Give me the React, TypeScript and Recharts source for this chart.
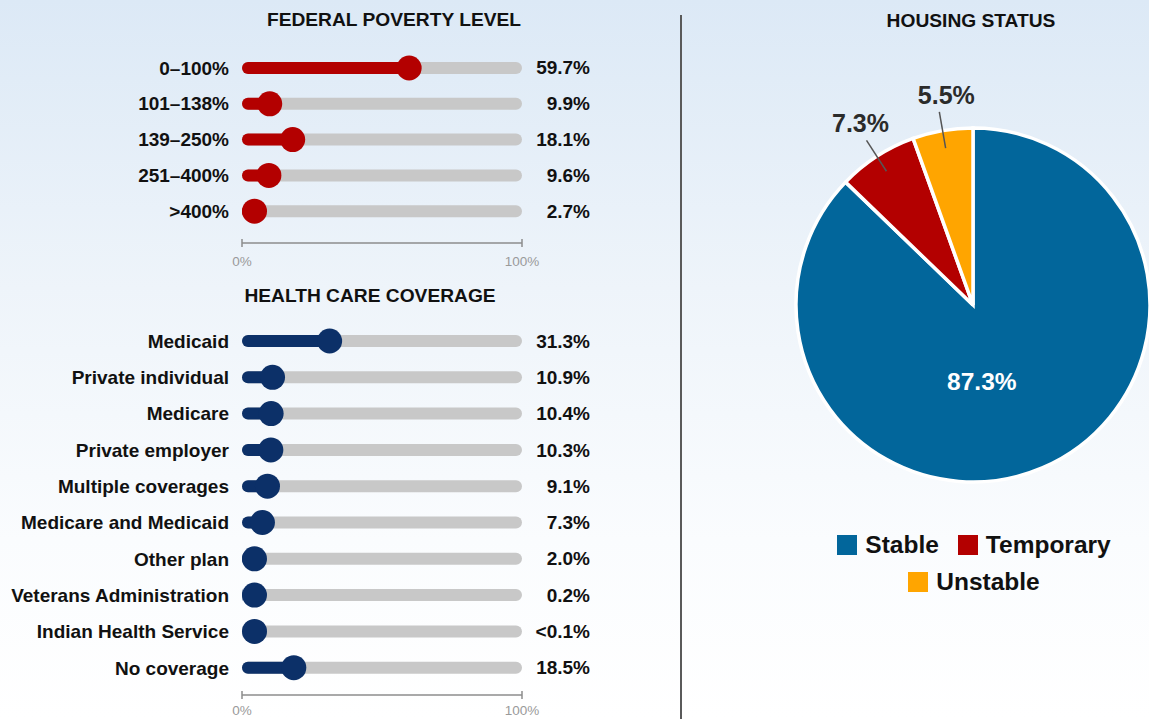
import React from "react";
import { BarChart, Bar, XAxis, YAxis, PieChart, Pie, Cell, Legend } from "recharts";

const fplCategories = ["0–100%", "101–138%", "139–250%", "251–400%", ">400%"];
const fplValues = [59.7, 9.9, 18.1, 9.6, 2.7];
const fplLabels = ["59.7%", "9.9%", "18.1%", "9.6%", "2.7%"];

const coverageCategories = [
  "Medicaid",
  "Private individual",
  "Medicare",
  "Private employer",
  "Multiple coverages",
  "Medicare and Medicaid",
  "Other plan",
  "Veterans Administration",
  "Indian Health Service",
  "No coverage",
];
const coverageValues = [31.3, 10.9, 10.4, 10.3, 9.1, 7.3, 2.0, 0.2, 0.05, 18.5];
const coverageLabels = ["31.3%", "10.9%", "10.4%", "10.3%", "9.1%", "7.3%", "2.0%", "0.2%", "<0.1%", "18.5%"];

const housingNames = ["Stable", "Temporary", "Unstable"];
const housingValues = [87.3, 7.3, 5.5];
const housingColors = ["#02669b", "#b30000", "#ffa500"];

const axisTicks = [0, 100];

const FONT = '"Liberation Sans", Arial, sans-serif';
const TEXT = "#111";

const RADIAN = Math.PI / 180;

function Lollipop(props: any) {
  const { x, y, width, height, fill } = props;
  const r = 12.5;
  const cy = y + height / 2;
  const cx = Math.max(x + width, x + r);
  return (
    <g>
      <rect x={x} y={y} width={Math.max(width, 0)} height={height} rx={height / 2} fill={fill} />
      <circle cx={cx} cy={cy} r={r} fill={fill} />
    </g>
  );
}

function AxisTick({ x, y, payload, labelDy }: any) {
  return (
    <g>
      <line x1={x} x2={x} y1={y - 4} y2={y + 4} stroke="#8c8c8c" strokeWidth={1.5} />
      <text x={x} y={y + labelDy} textAnchor="middle" dominantBaseline="central" fill="#9a9a9a" fontSize={13.5}>
        {payload.value}%
      </text>
    </g>
  );
}

function ValueTick({ x, y, payload }: any) {
  return (
    <text x={x + 68} y={y} textAnchor="end" dominantBaseline="central" fill={TEXT} fontSize={19} fontWeight={700}>
      {payload.value}
    </text>
  );
}

interface LollipopChartProps {
  categories: string[];
  values: number[];
  labels: string[];
  color: string;
  height: number;
  top: number;
  bottomPad: number;
  xAxisHeight: number;
  labelDy: number;
}

function LollipopChart({ categories, values, labels, color, height, top, bottomPad, xAxisHeight, labelDy }: LollipopChartProps) {
  const data = categories.map((name, i) => ({ name, value: values[i], label: labels[i] }));
  return (
    <BarChart
      layout="vertical"
      width={600}
      height={height}
      data={data}
      margin={{ top, right: 0, bottom: 0, left: 0 }}
      barSize={12}
    >
      <XAxis
        type="number"
        domain={[0, 100]}
        ticks={axisTicks}
        interval={0}
        height={xAxisHeight}
        axisLine={{ stroke: "#8c8c8c", strokeWidth: 1.5 }}
        tickLine={false}
        tickSize={0}
        tickMargin={0}
        tick={<AxisTick labelDy={labelDy} />}
      />
      <YAxis
        yAxisId="cat"
        type="category"
        dataKey="name"
        width={242}
        axisLine={false}
        tickLine={false}
        tickSize={0}
        tickMargin={13}
        interval={0}
        padding={{ top: 0, bottom: bottomPad }}
        tick={{ fill: TEXT, fontSize: 19, fontWeight: 700 }}
      />
      <YAxis
        yAxisId="val"
        orientation="right"
        type="category"
        dataKey="label"
        width={78}
        axisLine={false}
        tickLine={false}
        tickSize={0}
        tickMargin={0}
        interval={0}
        padding={{ top: 0, bottom: bottomPad }}
        tick={<ValueTick />}
      />
      <Bar
        yAxisId="cat"
        dataKey="value"
        fill={color}
        background={{ fill: "#c8c8c8", radius: 6 }}
        shape={<Lollipop />}
        isAnimationActive={false}
      />
    </BarChart>
  );
}

// small nudges so the outside labels sit as in the original
const labelDx = [0, -6, 7];

function renderPieLabel(props: any) {
  const { cx, cy, midAngle, outerRadius, index } = props;
  if (index === 0) {
    return (
      <text
        x={cx + outerRadius * 0.05}
        y={cy + outerRadius * 0.43}
        textAnchor="middle"
        dominantBaseline="central"
        fill="#fff"
        fontSize={24.5}
        fontWeight={700}
      >
        {housingValues[index]}%
      </text>
    );
  }
  const cos = Math.cos(-midAngle * RADIAN);
  const sin = Math.sin(-midAngle * RADIAN);
  const r1 = outerRadius * 0.9;
  const r2 = outerRadius + 19;
  const x1 = cx + r1 * cos;
  const y1 = cy + r1 * sin;
  const x2 = cx + r2 * cos;
  const y2 = cy + r2 * sin;
  return (
    <g>
      <line x1={x1} y1={y1} x2={x2} y2={y2} stroke="#555" strokeWidth={1.5} />
      <text
        x={x2 + labelDx[index]}
        y={y2 - 17}
        textAnchor="middle"
        dominantBaseline="central"
        fill="#2b2b2b"
        fontSize={25}
        fontWeight={700}
      >
        {housingValues[index]}%
      </text>
    </g>
  );
}

function HousingLegend({ payload }: any) {
  const items = (payload && payload.length ? payload : housingNames.map((n, i) => ({ value: n, color: housingColors[i] }))) as any[];
  return (
    <div
      style={{
        display: "flex",
        flexWrap: "wrap",
        justifyContent: "center",
        columnGap: 19,
        rowGap: 9,
        fontFamily: FONT,
      }}
    >
      {items.map((item) => (
        <div key={item.value} style={{ display: "flex", alignItems: "center", height: 28 }}>
          <span style={{ width: 20, height: 20, background: item.color, marginRight: 8, display: "inline-block" }} />
          <span style={{ fontSize: 24.5, fontWeight: 700, color: TEXT, lineHeight: "28px" }}>{item.value}</span>
        </div>
      ))}
    </div>
  );
}

const titleStyle: React.CSSProperties = {
  position: "absolute",
  transform: "translate(-50%, -50%)",
  fontSize: 19.2,
  fontWeight: 700,
  color: TEXT,
  whiteSpace: "nowrap",
};

export default function App() {
  const housingData = housingNames.map((name, i) => ({ name, value: housingValues[i] }));
  return (
    <div
      style={{
        position: "absolute",
        left: 0,
        top: 0,
        width: 1149,
        height: 719,
        overflow: "hidden",
        fontFamily: FONT,
        background: "linear-gradient(to bottom, #dce9f6 0%, #eef4fa 40%, #fafcfe 75%, #ffffff 100%)",
      }}
    >
      <div style={{ ...titleStyle, left: 394, top: 20 }}>FEDERAL POVERTY LEVEL</div>
      <div style={{ ...titleStyle, left: 370, top: 296 }}>HEALTH CARE COVERAGE</div>
      <div style={{ ...titleStyle, left: 971, top: 21 }}>HOUSING STATUS</div>

      <div style={{ position: "absolute", left: 0, top: 0 }}>
        <LollipopChart
          categories={fplCategories}
          values={fplValues}
          labels={fplLabels}
          color="#b30000"
          height={273}
          top={50}
          bottomPad={14}
          xAxisHeight={30}
          labelDy={18}
        />
      </div>

      <div style={{ position: "absolute", left: 0, top: 280 }}>
        <LollipopChart
          categories={coverageCategories}
          values={coverageValues}
          labels={coverageLabels}
          color="#0c3068"
          height={439}
          top={43}
          bottomPad={9}
          xAxisHeight={24}
          labelDy={15}
        />
      </div>

      <div style={{ position: "absolute", left: 680, top: 15, width: 1.5, height: 704, background: "#5a5a5a" }} />

      <div style={{ position: "absolute", left: 682, top: 0 }}>
        <PieChart width={467} height={719} margin={{ top: 0, right: 0, bottom: 0, left: 0 }}>
          <Pie
            data={housingData}
            dataKey="value"
            nameKey="name"
            cx={291}
            cy={305}
            outerRadius={177}
            startAngle={90}
            endAngle={-270}
            stroke="#fff"
            strokeWidth={3.5}
            label={renderPieLabel}
            labelLine={false}
            isAnimationActive={false}
          >
            {housingData.map((d, i) => (
              <Cell key={d.name} fill={housingColors[i]} />
            ))}
          </Pie>
          <Legend
            content={<HousingLegend />}
            wrapperStyle={{ position: "absolute", top: 531, left: 146, width: 292, bottom: "auto" }}
          />
        </PieChart>
      </div>
    </div>
  );
}
